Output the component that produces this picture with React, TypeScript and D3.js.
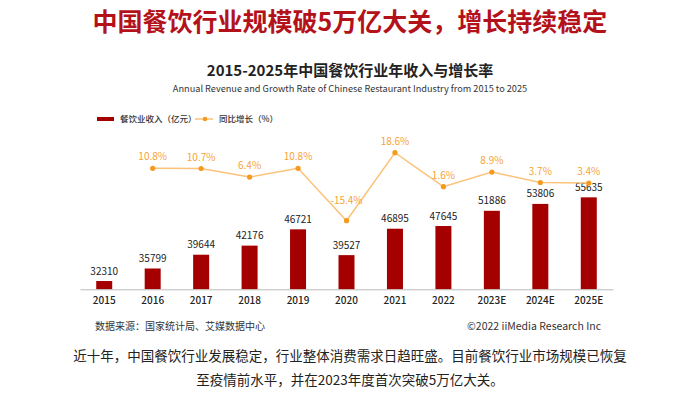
import React, { useRef, useEffect } from "react";
import * as d3 from "d3";

const years = ["2015", "2016", "2017", "2018", "2019", "2020", "2021", "2022", "2023E", "2024E", "2025E"];
const revenue = [32310, 35799, 39644, 42176, 46721, 39527, 46895, 47645, 51886, 53806, 55635];
// growth rate has no value for 2015
const growthYears = years.slice(1);
const growth = [10.8, 10.7, 6.4, 10.8, -15.4, 18.6, 1.6, 8.9, 3.7, 3.4];

const FONT = "'Noto Sans CJK SC', 'Noto Sans', sans-serif";
const BAR = "#A50000";
const LINE = "#FBC27A";
const DOT = "#F59A1E";
const LABEL_ORANGE = "#F5A33A";

export default function App() {
  const svgRef = useRef<SVGSVGElement>(null);

  useEffect(() => {
    if (!svgRef.current) return;
    const svg = d3.select(svgRef.current);
    svg.selectAll("*").remove();

    const width = 700;
    const height = 396;

    svg.append("rect").attr("width", width).attr("height", height).attr("fill", "#fff");

    // Titles
    svg
      .append("text")
      .attr("x", 350)
      .attr("y", 31)
      .attr("text-anchor", "middle")
      .attr("fill", "#B3121B")
      .style("font-size", "25px")
      .style("font-weight", 700)
      .text("中国餐饮行业规模破5万亿大关，增长持续稳定");

    svg
      .append("text")
      .attr("x", 350)
      .attr("y", 76)
      .attr("text-anchor", "middle")
      .attr("fill", "#222")
      .style("font-size", "15px")
      .style("font-weight", 700)
      .text("2015-2025年中国餐饮行业年收入与增长率");

    svg
      .append("text")
      .attr("x", 350)
      .attr("y", 92)
      .attr("text-anchor", "middle")
      .attr("fill", "#333")
      .style("font-size", "9.2px")
      .text("Annual Revenue and Growth Rate of Chinese Restaurant Industry from 2015 to 2025");

    // Scales
    const x = d3.scaleBand<string>().domain(years).range([80, 613]).padding(0);
    const cx = (d: string) => x(d)! + x.bandwidth() / 2;
    const y = d3.scaleLinear().domain([30000, 60000]).range([289.3, 181.7]);
    const yg = d3.scaleLinear().domain([-20, 20]).range([229.9, 149.9]);
    const barW = 16;

    // Bars
    svg
      .selectAll(".bar")
      .data(years)
      .enter()
      .append("rect")
      .attr("class", "bar")
      .attr("x", (d) => cx(d) - barW / 2)
      .attr("width", barW)
      .attr("y", (d, i) => y(revenue[i]))
      .attr("height", (d, i) => y(30000) - y(revenue[i]))
      .attr("fill", BAR);

    svg
      .selectAll(".bar-label")
      .data(years)
      .enter()
      .append("text")
      .attr("class", "bar-label")
      .attr("x", (d) => cx(d))
      .attr("y", (d, i) => y(revenue[i]) - 6.5)
      .attr("text-anchor", "middle")
      .attr("fill", "#222")
      .style("font-size", "10px")
      .text((d, i) => revenue[i]);

    // Axis
    const axis = svg
      .append("g")
      .attr("transform", `translate(0,${y(30000)})`)
      .call(d3.axisBottom(x).tickSize(0).tickPadding(8));
    axis.select(".domain").attr("stroke", "#bbb");
    axis
      .selectAll("text")
      .attr("fill", "#222")
      .style("font-family", FONT)
      .style("font-size", "10px")
      .style("font-weight", 500);

    // Growth line
    const line = d3
      .line<number>()
      .x((d, i) => cx(growthYears[i]))
      .y((d) => yg(d));

    svg
      .append("path")
      .datum(growth)
      .attr("fill", "none")
      .attr("stroke", LINE)
      .attr("stroke-width", 1.5)
      .attr("d", line);

    svg
      .selectAll(".dot")
      .data(growth)
      .enter()
      .append("circle")
      .attr("class", "dot")
      .attr("cx", (d, i) => cx(growthYears[i]))
      .attr("cy", (d) => yg(d))
      .attr("r", 2.6)
      .attr("fill", DOT);

    svg
      .selectAll(".dot-label")
      .data(growth)
      .enter()
      .append("text")
      .attr("class", "dot-label")
      .attr("x", (d, i) => cx(growthYears[i]))
      .attr("y", (d) => yg(d) - (d < 0 ? 17 : 8))
      .attr("text-anchor", "middle")
      .attr("fill", LABEL_ORANGE)
      .style("font-size", "10px")
      .text((d) => `${d.toFixed(1)}%`);

    // Legend
    const legend = svg.append("g").attr("transform", "translate(97,119)");
    legend.append("rect").attr("x", 0).attr("y", -2).attr("width", 17).attr("height", 4).attr("fill", BAR);
    legend
      .append("text")
      .attr("x", 23)
      .attr("y", 3.2)
      .attr("fill", "#333")
      .style("font-size", "8.5px")
      .style("font-weight", 500)
      .text("餐饮业收入（亿元）");
    legend.append("line").attr("x1", 98).attr("x2", 116).attr("y1", 0).attr("y2", 0).attr("stroke", LINE).attr("stroke-width", 1.5);
    legend.append("circle").attr("cx", 108).attr("cy", 0).attr("r", 2.3).attr("fill", DOT);
    legend
      .append("text")
      .attr("x", 122)
      .attr("y", 3.2)
      .attr("fill", "#333")
      .style("font-size", "8.5px")
      .style("font-weight", 500)
      .text("同比增长（%）");

    // Footer
    svg
      .append("text")
      .attr("x", 95)
      .attr("y", 329.5)
      .attr("fill", "#333")
      .style("font-size", "10px")
      .text("数据来源：国家统计局、艾媒数据中心");

    svg
      .append("text")
      .attr("x", 601)
      .attr("y", 329.5)
      .attr("text-anchor", "end")
      .attr("fill", "#333")
      .style("font-size", "10.5px")
      .text("©2022 iiMedia Research Inc");

    svg
      .append("text")
      .attr("x", 350)
      .attr("y", 361)
      .attr("text-anchor", "middle")
      .attr("fill", "#222")
      .style("font-size", "13.5px")
      .text("近十年，中国餐饮行业发展稳定，行业整体消费需求日趋旺盛。目前餐饮行业市场规模已恢复");

    svg
      .append("text")
      .attr("x", 350)
      .attr("y", 385)
      .attr("text-anchor", "middle")
      .attr("fill", "#222")
      .style("font-size", "13.5px")
      .text("至疫情前水平，并在2023年度首次突破5万亿大关。");
  }, []);

  return (
    <svg
      ref={svgRef}
      width={700}
      height={396}
      style={{ position: "absolute", left: 0, top: 0, fontFamily: FONT }}
    />
  );
}
